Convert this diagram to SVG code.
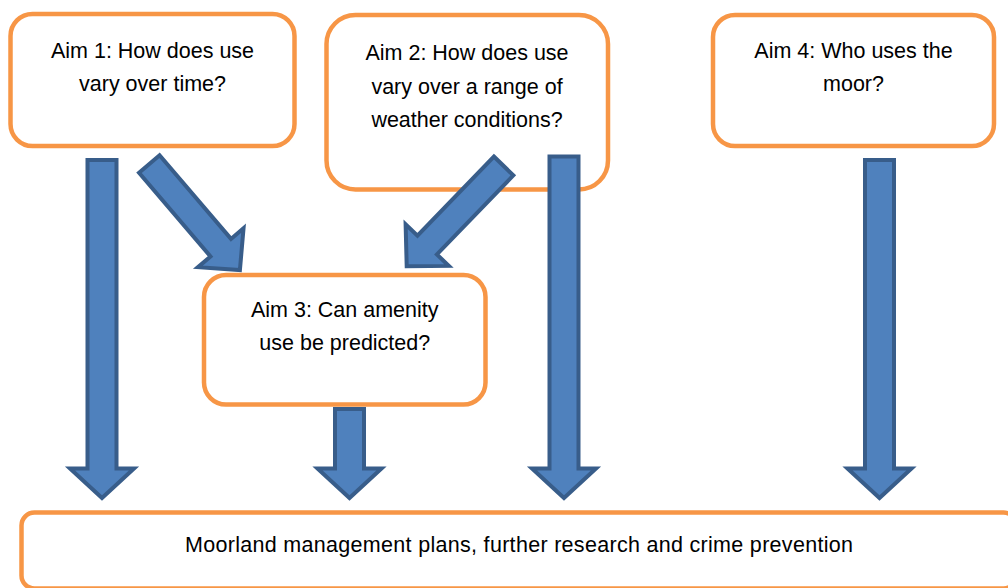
<svg xmlns="http://www.w3.org/2000/svg" width="1008" height="588" viewBox="0 0 1008 588">
<style>
.box{fill:#FFFFFF;stroke:#F79646;stroke-width:4.5}
.lbl{font-family:"Liberation Sans",Arial,sans-serif;font-size:21.5px;fill:#000000;text-anchor:middle}
.arr{fill:#4F81BD;stroke:#385D8A;stroke-width:4;stroke-linejoin:miter}
</style>
<defs>
<path id="diag" d="M-13.5,2 L13.5,2 L13.5,112 L30,112 L0,141.5 L-30,112 L-13.5,112 Z"/>
</defs>
<rect width="1008" height="588" fill="#FFFFFF"/>
<g id="aim1">
<rect class="box" x="10.5" y="14" width="284" height="132" rx="22" ry="22"/>
<text class="lbl" x="152.5" y="57.5">Aim 1: How does use</text>
<text class="lbl" x="152.5" y="90.5">vary over time?</text>
</g>
<g id="aim2">
<rect class="box" x="326.5" y="15" width="281.5" height="174.5" rx="29" ry="29"/>
<text class="lbl" x="467" y="60">Aim 2: How does use</text>
<text class="lbl" x="467" y="93.5">vary over a range of</text>
<text class="lbl" x="467" y="127">weather conditions?</text>
</g>
<g id="aim4">
<rect class="box" x="713" y="15" width="281" height="131" rx="22" ry="22"/>
<text class="lbl" x="853.5" y="57.5">Aim 4: Who uses the</text>
<text class="lbl" x="853.5" y="90.5">moor?</text>
</g>
<g id="aim3">
<rect class="box" x="204" y="275" width="281.5" height="129.5" rx="22" ry="22"/>
<text class="lbl" x="344.75" y="316.5">Aim 3: Can amenity</text>
<text class="lbl" x="344.75" y="350">use be predicted?</text>
</g>
<g id="outcome">
<rect class="box" x="21.5" y="512.5" width="995" height="76" rx="13" ry="13"/>
<text class="lbl" x="519" y="551.5" textLength="668" lengthAdjust="spacing">Moorland management plans, further research and crime prevention</text>
</g>
<g id="connectors">
<path class="arr" d="M87.5,160 L116.5,160 L116.5,468.5 L134,468.5 L102,498 L70,468.5 L87.5,468.5 Z"/>
<path class="arr" d="M335,409 L364,409 L364,468.5 L381.5,468.5 L349.5,498 L317.5,468.5 L335,468.5 Z"/>
<path class="arr" d="M549.5,156.5 L578.5,156.5 L578.5,468.5 L596,468.5 L564,498 L532,468.5 L549.5,468.5 Z"/>
<path class="arr" d="M865,160 L894,160 L894,468.5 L911.5,468.5 L879.5,498 L847.5,468.5 L865,468.5 Z"/>
<use class="arr" href="#diag" transform="translate(148,162.5) rotate(-40.5)"/>
<use class="arr" href="#diag" transform="translate(505,164.5) rotate(44)"/>
</g>
</svg>
